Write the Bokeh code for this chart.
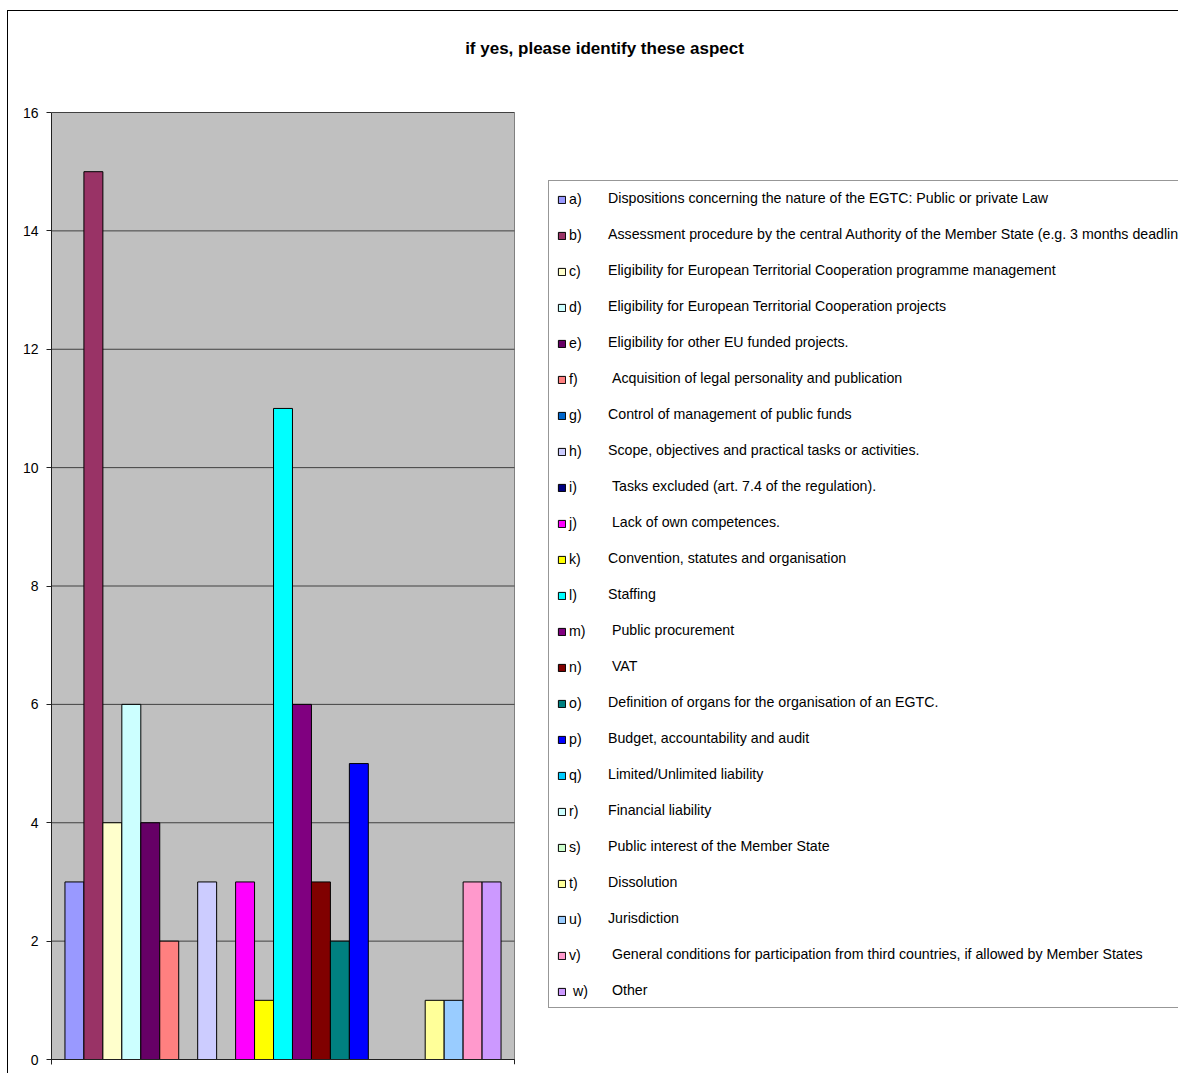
from bokeh.plotting import figure
from bokeh.models import Legend, LegendItem, Label, FixedTicker, Range1d
from bokeh.embed import file_html
from bokeh.resources import INLINE

title_text = "if yes, please identify these aspect"

letters = ["a)", "b)", "c)", "d)", "e)", "f)", "g)", "h)", "i)", "j)", "k)", "l)",
           "m)", "n)", "o)", "p)", "q)", "r)", "s)", "t)", "u)", "v)", "\u00a0w)"]

descriptions = [
    "Dispositions concerning the nature of the EGTC: Public or private Law",
    "Assessment procedure by the central Authority of the Member State (e.g. 3 months deadline)",
    "Eligibility for European Territorial Cooperation programme management",
    "Eligibility for European Territorial Cooperation projects",
    "Eligibility for other EU funded projects.",
    "\u00a0Acquisition of legal personality and publication",
    "Control of management of public funds",
    "Scope, objectives and practical tasks or activities.",
    "\u00a0Tasks excluded (art. 7.4 of the regulation).",
    "\u00a0Lack of own competences.",
    "Convention, statutes and organisation",
    "Staffing",
    "\u00a0Public procurement",
    "\u00a0VAT",
    "Definition of organs for the organisation of an EGTC.",
    "Budget, accountability and audit",
    "Limited/Unlimited liability",
    "Financial liability",
    "Public interest of the Member State",
    "Dissolution",
    "Jurisdiction",
    "\u00a0General conditions for participation from third countries, if allowed by Member States",
    "\u00a0Other",
]

values = [3, 15, 4, 6, 4, 2, 0, 3, 0, 3, 1, 11, 6, 3, 2, 5, 0, 0, 0, 1, 1, 3, 3]

colors = ["#9999FF", "#993366", "#FFFFCC", "#CCFFFF", "#660066", "#FF8080",
          "#0066CC", "#CCCCFF", "#000080", "#FF00FF", "#FFFF00", "#00FFFF",
          "#800080", "#800000", "#008080", "#0000FF", "#00CCFF", "#CCFFFF",
          "#CCFFCC", "#FFFF99", "#99CCFF", "#FF99CC", "#CC99FF"]

y_ticks = [0, 2, 4, 6, 8, 10, 12, 14, 16]
y_max = 16

FONT = "Liberation Sans"

# ---- layout (pixels) ----
W, H = 1178, 1073
B_LEFT, B_TOP, B_BOTTOM = 51, 20, 9
plot_px_w = 463            # width of the grey plot area
plot_px_h = 947            # height of the grey plot area (0..16)
plot_top_px = 112          # top of grey area (from figure top)
tick_px = 5
LEG_PAD = 7

n = len(values)
pad = 0.71
frame_w = W - B_LEFT
ppu_x = plot_px_w / (n + 2 * pad)
ppu_y = plot_px_h / y_max
x_start = -0.5 - pad
x_plot_end = n - 0.5 + pad
x_end = x_start + frame_w / ppu_x
y_start = -tick_px / ppu_y
y_end = y_max + (plot_top_px - B_TOP) / ppu_y
frame_bottom_px = H - B_BOTTOM

p = figure(width=W, height=H, output_backend="svg", toolbar_location=None,
           x_range=Range1d(x_start, x_end), y_range=Range1d(y_start, y_end),
           x_axis_location=None,
           min_border_left=B_LEFT, min_border_right=0, min_border_top=B_TOP,
           min_border_bottom=B_BOTTOM,
           styles={"background": "linear-gradient(#000, #000) 7px 10px / 1px 100% no-repeat, "
                                 "linear-gradient(#000, #000) 7px 10px / 100% 1px no-repeat, white"})
p.title.visible = False
p.background_fill_color = "white"
p.border_fill_alpha = 0.0
p.outline_line_color = None
p.xgrid.visible = False
p.ygrid.visible = False

p.yaxis.ticker = FixedTicker(ticks=y_ticks)
p.yaxis.bounds = (y_start, y_max)
p.yaxis.minor_tick_line_color = None
p.yaxis.major_tick_in = 0
p.yaxis.major_tick_out = 5
p.yaxis.major_label_standoff = 8
p.yaxis.major_label_text_font = FONT
p.yaxis.major_label_text_font_size = "14px"
p.yaxis.major_label_text_color = "black"
p.yaxis.axis_line_color = "#202020"
p.yaxis.major_tick_line_color = "#202020"

# grey plot area, its right edge, grid lines and the category axis
p.quad(left=[x_start], right=[x_plot_end], bottom=[0], top=[y_max],
       fill_color="#C0C0C0", line_color=None)
p.segment(x0=[x_plot_end], y0=[0], x1=[x_plot_end], y1=[y_max],
          line_color="#808080", line_width=1)
p.segment(x0=[x_start] * len(y_ticks), y0=y_ticks, x1=[x_plot_end] * len(y_ticks),
          y1=y_ticks, line_color="#404040", line_width=1)

bar_items = []
desc_items = []
dummy = p.vbar(x=[], top=[], width=1, fill_alpha=0, line_alpha=0)
for i in range(n):
    r = p.vbar(x=[i], top=[values[i]], bottom=0, width=1,
               fill_color=colors[i], line_color="black", line_width=1)
    bar_items.append(LegendItem(label=letters[i], renderers=[r]))
    desc_items.append(LegendItem(label=descriptions[i], renderers=[dummy]))

p.segment(x0=[x_start], y0=[0], x1=[x_plot_end], y1=[0], line_color="#202020", line_width=1)
p.segment(x0=[x_plot_end], y0=[0], x1=[x_plot_end], y1=[y_start], line_color="#202020",
          line_width=1)

common = dict(spacing=16, label_height=20, padding=LEG_PAD,
              label_text_font=FONT, label_text_font_size="14.2px",
              label_text_color="black", margin=0)

legend_left_px, legend_bottom_px = 548, 1008
loc_x = legend_left_px - B_LEFT
loc_y = frame_bottom_px - legend_bottom_px

legend_b = Legend(items=desc_items, location=(loc_x, loc_y), glyph_width=0,
                  glyph_height=9, label_standoff=52, border_line_color="#303030",
                  border_line_width=1, background_fill_color="white",
                  background_fill_alpha=1.0, **common)
# borderless legend: its padding collapses, so offset it by the padding
legend_a = Legend(items=bar_items, location=(loc_x + 2 + LEG_PAD, loc_y + LEG_PAD),
                  glyph_width=9, glyph_height=9, label_standoff=3,
                  border_line_color=None, background_fill_alpha=0.0, **common)
p.add_layout(legend_b, "center")
p.add_layout(legend_a, "center")

title = Label(x=604 - B_LEFT, y=frame_bottom_px - 48, x_units="screen", y_units="screen",
              text=title_text, text_align="center", text_baseline="middle",
              text_font=FONT, text_font_size="17px", text_font_style="bold",
              text_color="black")
p.add_layout(title)

open("out.html", "w").write(file_html(p, INLINE))
